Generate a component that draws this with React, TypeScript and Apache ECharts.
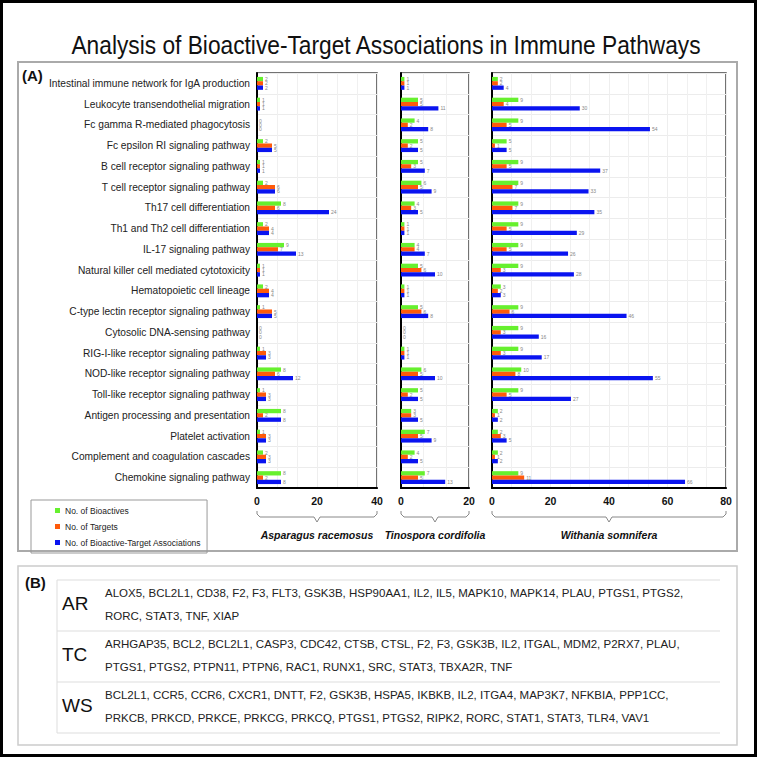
import React, { useEffect, useRef } from 'react';
import * as echarts from 'echarts';

const categories = [
  'Intestinal immune network for IgA production',
  'Leukocyte transendothelial migration',
  'Fc gamma R-mediated phagocytosis',
  'Fc epsilon RI signaling pathway',
  'B cell receptor signaling pathway',
  'T cell receptor signaling pathway',
  'Th17 cell differentiation',
  'Th1 and Th2 cell differentiation',
  'IL-17 signaling pathway',
  'Natural killer cell mediated cytotoxicity',
  'Hematopoietic cell lineage',
  'C-type lectin receptor signaling pathway',
  'Cytosolic DNA-sensing pathway',
  'RIG-I-like receptor signaling pathway',
  'NOD-like receptor signaling pathway',
  'Toll-like receptor signaling pathway',
  'Antigen processing and presentation',
  'Platelet activation',
  'Complement and coagulation cascades',
  'Chemokine signaling pathway',
];

const seriesNames = ['No. of Bioactives', 'No. of Targets', 'No. of Bioactive-Target Associations'];
const seriesColors = ['#66f02e', '#ff5a0a', '#0a14f0'];

const arBioactives = [2, 1, 0, 2, 1, 2, 8, 2, 9, 1, 2, 1, 0, 1, 8, 1, 8, 1, 2, 8];
const arTargets = [2, 1, 0, 5, 1, 6, 6, 4, 7, 1, 4, 5, 0, 3, 6, 3, 2, 3, 3, 2];
const arAssoc = [2, 1, 0, 5, 1, 6, 24, 4, 13, 1, 4, 5, 0, 3, 12, 3, 8, 3, 3, 8];

const tcBioactives = [1, 5, 4, 5, 5, 6, 4, 1, 4, 5, 1, 5, 0, 1, 6, 5, 3, 7, 4, 7];
const tcTargets = [1, 5, 2, 2, 3, 5, 3, 1, 4, 6, 1, 6, 0, 1, 5, 2, 3, 5, 2, 5];
const tcAssoc = [1, 11, 8, 5, 7, 9, 5, 1, 7, 10, 1, 8, 0, 1, 10, 5, 5, 9, 5, 13];

const wsBioactives = [2, 9, 9, 5, 9, 9, 9, 9, 9, 9, 3, 9, 9, 9, 10, 9, 2, 2, 2, 9];
const wsTargets = [2, 4, 5, 1, 5, 7, 7, 5, 5, 3, 2, 6, 3, 3, 8, 5, 1, 3, 1, 11];
const wsAssoc = [4, 30, 54, 5, 37, 33, 35, 29, 26, 28, 3, 46, 16, 17, 55, 27, 2, 5, 2, 66];

const species = ['Asparagus racemosus', 'Tinospora cordifolia', 'Withania somnifera'];
const axisMax = [40, 20, 80];
const axisInterval = [20, 20, 20];

const tableCodes = ['AR', 'TC', 'WS'];
const arGenes = ['ALOX5', 'BCL2L1', 'CD38', 'F2', 'F3', 'FLT3', 'GSK3B', 'HSP90AA1', 'IL2', 'IL5', 'MAPK10', 'MAPK14', 'PLAU', 'PTGS1', 'PTGS2', 'RORC', 'STAT3', 'TNF', 'XIAP'];
const tcGenes = ['ARHGAP35', 'BCL2', 'BCL2L1', 'CASP3', 'CDC42', 'CTSB', 'CTSL', 'F2', 'F3', 'GSK3B', 'IL2', 'ITGAL', 'MDM2', 'P2RX7', 'PLAU', 'PTGS1', 'PTGS2', 'PTPN11', 'PTPN6', 'RAC1', 'RUNX1', 'SRC', 'STAT3', 'TBXA2R', 'TNF'];
const wsGenes = ['BCL2L1', 'CCR5', 'CCR6', 'CXCR1', 'DNTT', 'F2', 'GSK3B', 'HSPA5', 'IKBKB', 'IL2', 'ITGA4', 'MAP3K7', 'NFKBIA', 'PPP1CC', 'PRKCB', 'PRKCD', 'PRKCE', 'PRKCG', 'PRKCQ', 'PTGS1', 'PTGS2', 'RIPK2', 'RORC', 'STAT1', 'STAT3', 'TLR4', 'VAV1'];
const firstLineCounts = [15, 15, 14];

const FONT = "'Liberation Sans', Arial, sans-serif";

export default function App() {
  const ref = useRef<HTMLDivElement>(null);
  useEffect(() => {
    if (!ref.current) return;
    const chart = echarts.init(ref.current, undefined, { renderer: 'svg' });

    const grids = [
      { left: 257, top: 73, width: 120, height: 415 },
      { left: 401, top: 73, width: 68, height: 415 },
      { left: 492, top: 73, width: 234, height: 415 },
    ];
    const dataSets = [
      [arBioactives, arTargets, arAssoc],
      [tcBioactives, tcTargets, tcAssoc],
      [wsBioactives, wsTargets, wsAssoc],
    ];

    const xAxes = grids.map((g, i) => ({
      type: 'value',
      gridIndex: i,
      min: 0,
      max: axisMax[i],
      interval: axisInterval[i],
      name: species[i],
      nameLocation: 'middle',
      nameGap: 41,
      nameTextStyle: { fontFamily: FONT, fontSize: 10.5, fontWeight: 'bold', fontStyle: 'italic', color: '#111' },
      axisLine: { show: true, lineStyle: { color: '#000', width: 2 } },
      axisTick: { show: false },
      axisLabel: { fontFamily: FONT, fontSize: 10.5, fontWeight: 'bold', color: '#111', margin: 7 },
      splitLine: { show: true, lineStyle: { color: '#eeeeee', width: 1 } },
      minorTick: { show: false, splitNumber: 3 },
      minorSplitLine: { show: true, lineStyle: { color: '#f0f0f0', width: 1 } },
    }));

    const yAxes = grids.map((g, i) => ({
      type: 'category',
      gridIndex: i,
      data: categories,
      inverse: true,
      axisLine: { show: true, lineStyle: { color: '#000', width: 2 } },
      axisTick: { show: false },
      axisLabel: i === 0
        ? { show: true, fontFamily: FONT, fontSize: 10.2, color: '#222', margin: 7 }
        : { show: false },
      splitLine: { show: true, lineStyle: { color: '#ececec', width: 1 } },
    }));

    const series: any[] = [];
    dataSets.forEach((set, gi) => {
      set.forEach((values, si) => {
        series.push({
          type: 'bar',
          name: seriesNames[si],
          xAxisIndex: gi,
          yAxisIndex: gi,
          data: values,
          barWidth: 4.3,
          barGap: '0%',
          itemStyle: { color: seriesColors[si] },
          label: {
            show: true,
            position: 'right',
            distance: 2,
            fontFamily: FONT,
            fontSize: 5,
            color: '#888',
          },
        });
      });
    });

    const bracket = (g: { left: number; width: number }) => {
      const L = g.left;
      const R = g.left + g.width;
      const C = (L + R) / 2;
      return {
        type: 'polyline',
        shape: {
          points: [
            [L, 511], [L, 514], [L + 3, 517], [C - 3, 517], [C, 522],
            [C + 3, 517], [R - 3, 517], [R, 514], [R, 511],
          ],
        },
        style: { stroke: '#888', lineWidth: 1, fill: null },
        silent: true,
      };
    };

    const geneSets = [arGenes, tcGenes, wsGenes];
    const rowTops = [580, 631, 682];
    const rowH = 51;
    const tableGraphics: any[] = [];
    rowTops.forEach((top, r) => {
      tableGraphics.push({
        type: 'line',
        shape: { x1: 57, y1: top, x2: 720, y2: top },
        style: { stroke: '#dddddd', lineWidth: 1 },
        silent: true,
      });
      tableGraphics.push({
        type: 'text',
        left: 62,
        top: top + 14,
        style: { text: tableCodes[r], font: `19px ${FONT}`, fill: '#111' },
      });
      const genes = geneSets[r];
      const n = firstLineCounts[r];
      const line1 = genes.slice(0, n).join(', ') + ',';
      const line2 = genes.slice(n).join(', ');
      tableGraphics.push({
        type: 'text',
        left: 105,
        top: top + 7,
        style: { text: line1, font: `11.5px ${FONT}`, fill: '#222' },
      });
      tableGraphics.push({
        type: 'text',
        left: 105,
        top: top + 30,
        style: { text: line2, font: `11.5px ${FONT}`, fill: '#222' },
      });
    });
    tableGraphics.push({
      type: 'line',
      shape: { x1: 57, y1: rowTops[2] + rowH, x2: 720, y2: rowTops[2] + rowH },
      style: { stroke: '#dddddd', lineWidth: 1 },
      silent: true,
    });
    tableGraphics.push({
      type: 'line',
      shape: { x1: 57, y1: rowTops[0], x2: 57, y2: rowTops[2] + rowH },
      style: { stroke: '#dddddd', lineWidth: 1 },
      silent: true,
    });

    chart.setOption({
      animation: false,
      backgroundColor: '#ffffff',
      grid: grids.map((g) => ({ ...g, show: true, borderColor: '#444', borderWidth: 1.5, containLabel: false })),
      xAxis: xAxes,
      yAxis: yAxes,
      legend: {
        orient: 'vertical',
        left: 31,
        top: 500,
        data: seriesNames,
        icon: 'rect',
        itemWidth: 5,
        itemHeight: 5,
        itemGap: 7,
        padding: [6, 6, 6, 24],
        borderColor: '#999',
        borderWidth: 1,
        textStyle: { fontFamily: FONT, fontSize: 8.5, color: '#222' },
      },
      series,
      graphic: [
        {
          type: 'rect',
          shape: { x: 1.5, y: 1.5, width: 754, height: 754 },
          style: { stroke: '#000', lineWidth: 3, fill: null },
          silent: true,
        },
        {
          type: 'rect',
          shape: { x: 18, y: 62, width: 719, height: 489 },
          style: { stroke: '#aaaaaa', lineWidth: 2, fill: null },
          silent: true,
        },
        {
          type: 'rect',
          shape: { x: 18, y: 566, width: 719, height: 179 },
          style: { stroke: '#cccccc', lineWidth: 1.5, fill: null },
          silent: true,
        },
        {
          type: 'text',
          x: 386,
          y: 45,
          scaleX: 0.875,
          style: {
            text: 'Analysis of Bioactive-Target Associations in Immune Pathways',
            font: `26px ${FONT}`,
            fill: '#111',
            align: 'center',
            verticalAlign: 'middle',
          },
        },
        {
          type: 'text',
          left: 22,
          top: 68,
          style: { text: '(A)', font: `bold 15px ${FONT}`, fill: '#111' },
        },
        {
          type: 'text',
          left: 25,
          top: 575,
          style: { text: '(B)', font: `bold 15px ${FONT}`, fill: '#111' },
        },
        ...grids.map(bracket),
        ...tableGraphics,
      ],
    });

    return () => chart.dispose();
  }, []);

  return (
    <div
      ref={ref}
      style={{ position: 'fixed', left: 0, top: 0, width: 757, height: 757, background: '#fff' }}
    />
  );
}
